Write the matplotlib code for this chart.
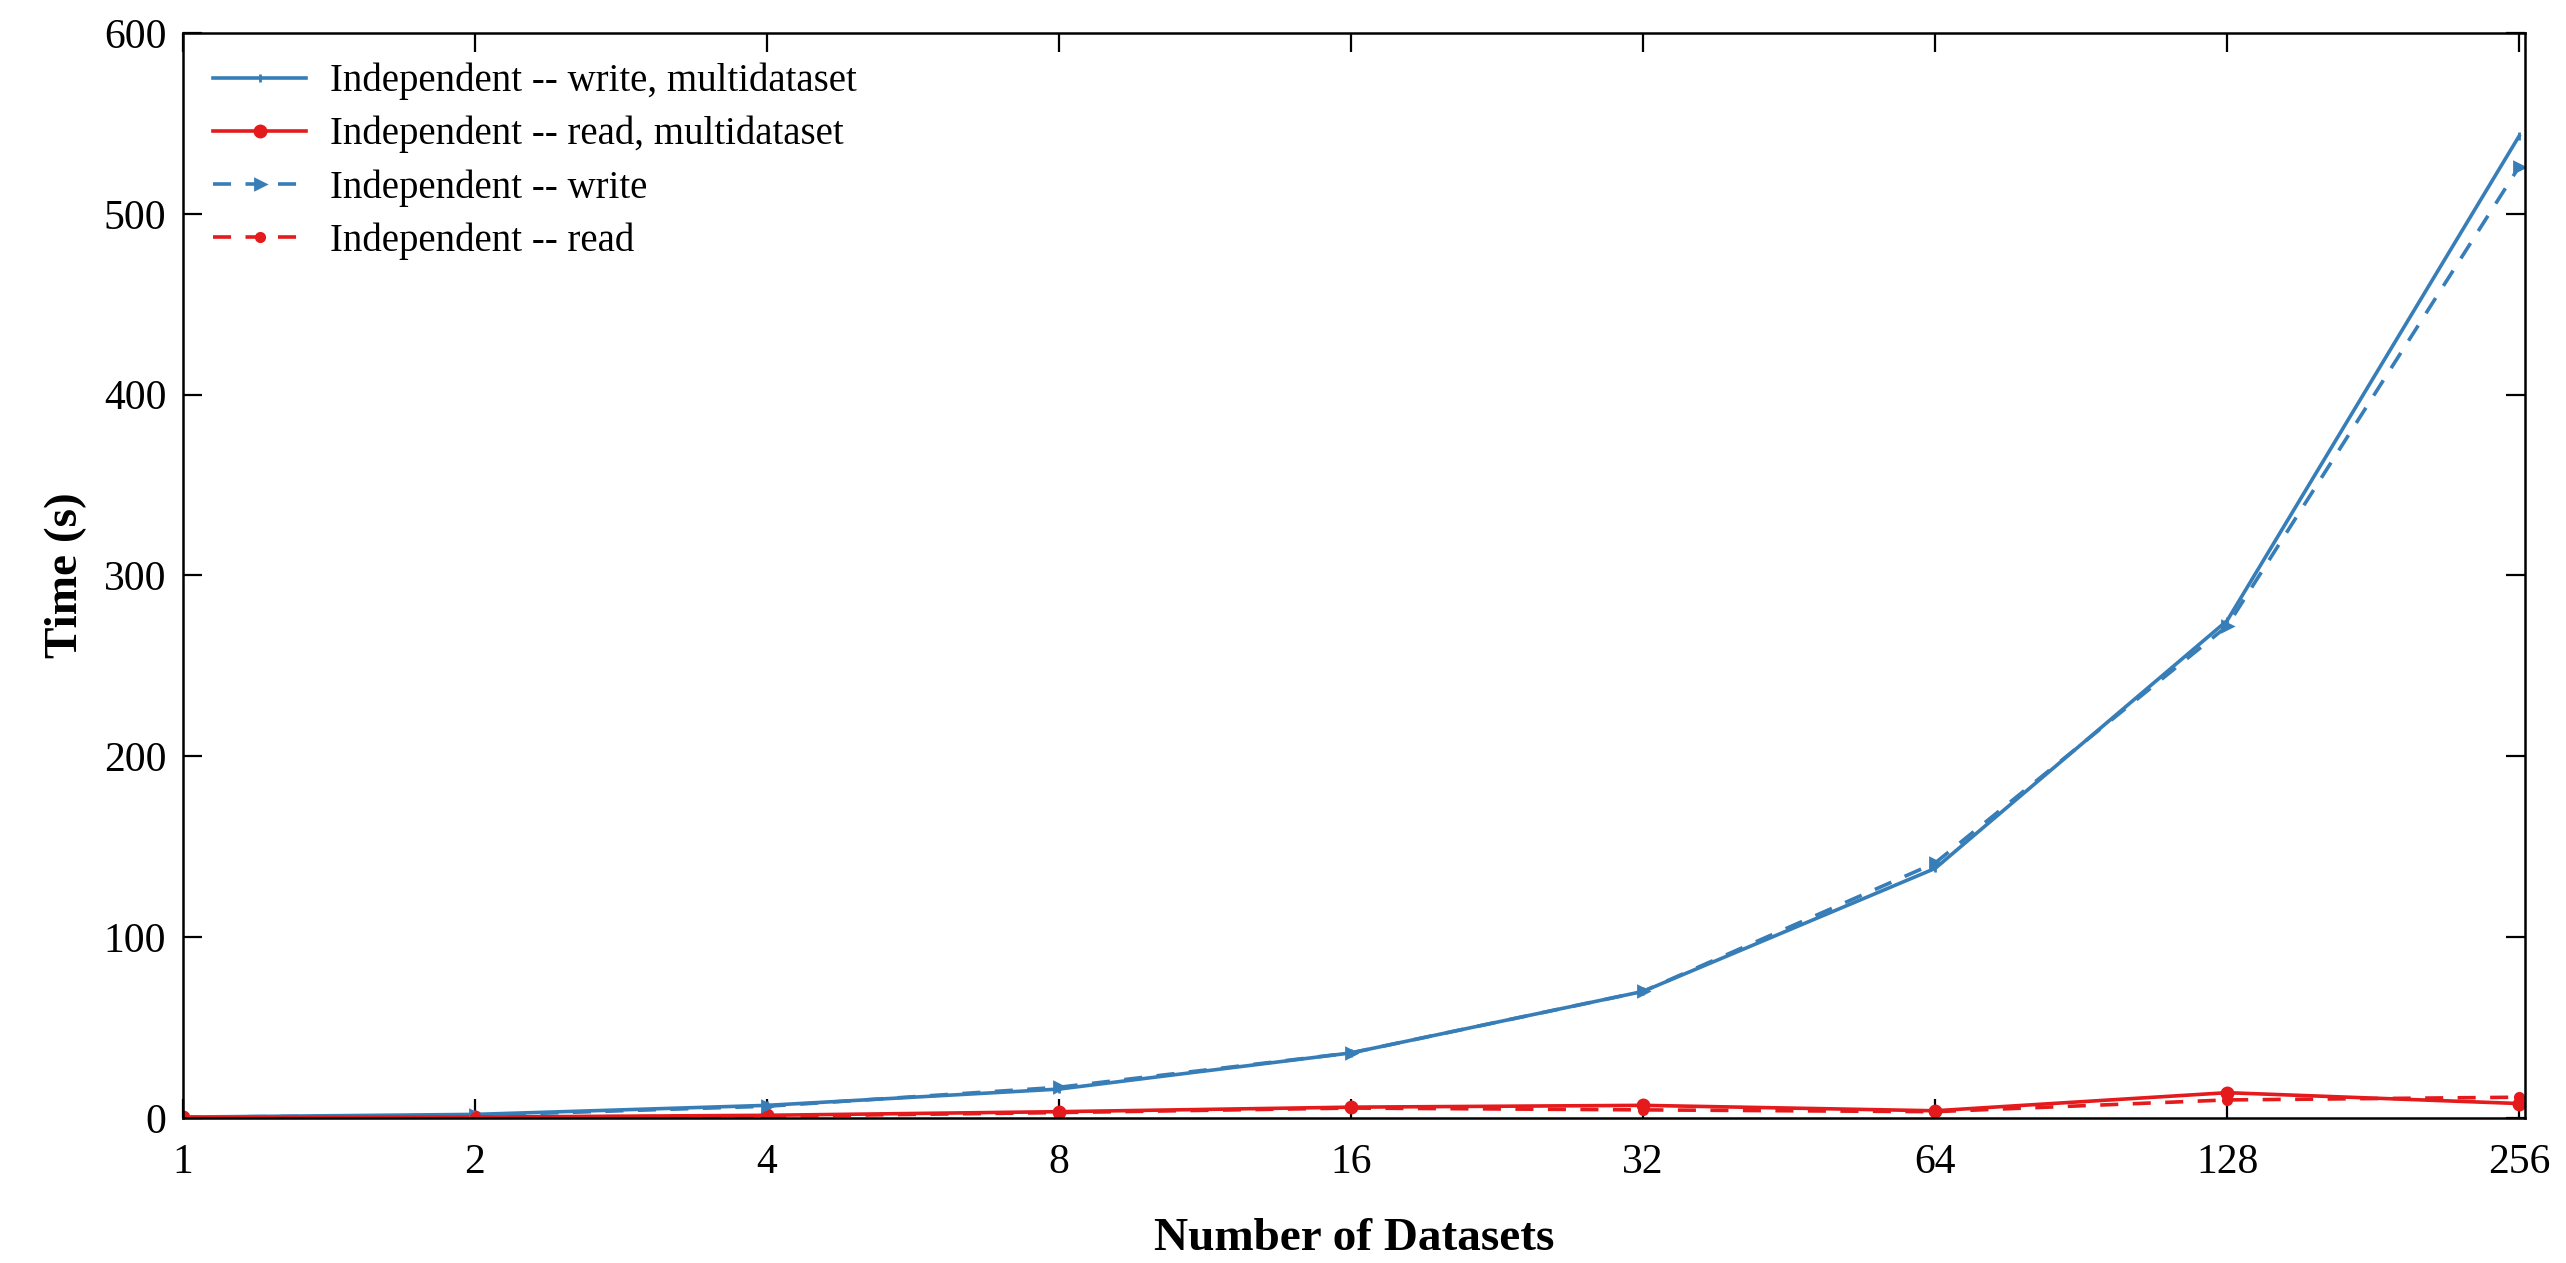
import numpy as np
import matplotlib
matplotlib.use("Agg")
import matplotlib.pyplot as plt

# number of datasets (plotted on equally spaced positions)
datasets = ["1", "2", "4", "8", "16", "32", "64", "128", "256"]

# time in seconds
write_multi = [0.5, 2.0, 7.0, 16.0, 36.0, 70.0, 138.0, 275.0, 543.0]
read_multi = [0.3, 0.5, 1.5, 3.5, 6.0, 7.0, 4.0, 14.0, 8.0]
write_single = [0.5, 1.5, 6.5, 17.0, 36.0, 70.0, 141.0, 272.0, 526.0]
read_single = [0.3, 0.5, 1.0, 3.0, 5.5, 4.5, 3.5, 10.0, 11.5]

series_labels = [
    "Independent -- write, multidataset",
    "Independent -- read, multidataset",
    "Independent -- write",
    "Independent -- read",
]

blue = "#377EB8"
red = "#E41A1C"

plt.rcParams["font.family"] = ["Liberation Serif", "DejaVu Serif"]

fig = plt.figure(figsize=(12.83, 6.315), dpi=200)
ax = fig.add_axes([0.0713, 0.1148, 0.9127, 0.8591])

x = np.arange(len(datasets))

ax.plot(x, write_multi, color=blue, lw=1.3, ls="-", marker="|", ms=3, label=series_labels[0])
ax.plot(x, read_multi, color=red, lw=1.3, ls="-", marker=".", ms=8, label=series_labels[1])
ax.plot(x, write_single, color=blue, lw=1.3, ls=(0, (5, 4)), marker=">", ms=3.5, label=series_labels[2])
ax.plot(x, read_single, color=red, lw=1.3, ls=(0, (5, 4)), marker=".", ms=6, label=series_labels[3])

ax.set_xlim(0, len(datasets) - 1 + 0.02)
ax.set_ylim(0, 600)
ax.set_xticks(x)
ax.set_xticklabels(datasets)
ax.set_yticks(np.arange(0, 601, 100))

ax.tick_params(direction="in", length=7, width=0.8, top=True, right=True,
               labelsize=15)
ax.tick_params(axis="x", pad=9)
ax.tick_params(axis="y", pad=6)
for sp in ax.spines.values():
    sp.set_linewidth(0.9)

ax.set_xlabel("Number of Datasets", fontsize=17, fontweight="bold", labelpad=13)
ax.set_ylabel("Time (s)", fontsize=17, fontweight="bold", labelpad=6)

ax.legend(loc="upper left", frameon=False, fontsize=14, handlelength=2.4,
          labelspacing=0.4, borderaxespad=0.37, handletextpad=0.6)

fig.savefig("out.png", dpi=200)
